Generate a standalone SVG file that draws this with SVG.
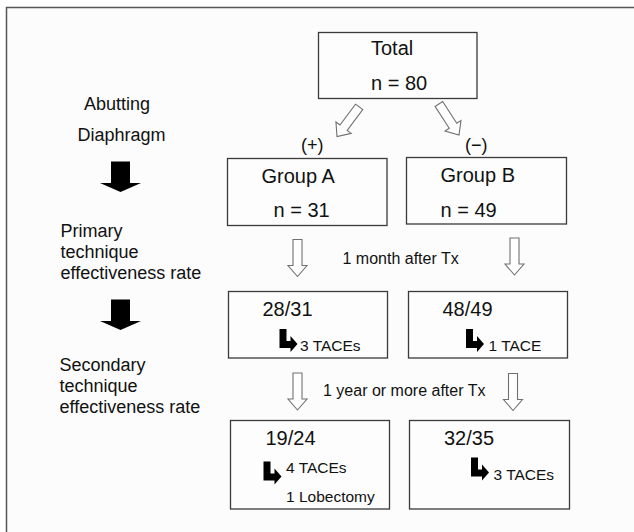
<svg xmlns="http://www.w3.org/2000/svg" xmlns:xlink="http://www.w3.org/1999/xlink" width="634" height="532" viewBox="0 0 634 532">
<style>
  text { font-family: "Liberation Sans", Arial, sans-serif; fill: #111; }
  .lbl { font-size: 18px; }
  .big { font-size: 20px; }
  .mid { font-size: 16px; }
  .sm { font-size: 15.5px; }
  .box { fill: #fdfdfd; stroke: #3a3a3a; stroke-width: 1.3; }
  .ha { fill: #fff; stroke: #707070; stroke-width: 1.1; }
  .ba { fill: #000; }
</style>
<defs>
  <path id="hollow" d="M-4.5,-37 H4.5 V-11 H9.5 L0,0 L-9.5,-11 H-4.5 Z"/>
  <path id="bent" d="M0,0 H7 V12 H11 V7 L18,15 L11,23 V19 H0 Z"/>
  <path id="black" d="M-9.5,-30.5 H9.5 V-9 H20.5 L0,0 L-20.5,-9 H-9.5 Z"/>
</defs>
<rect x="6.5" y="7.5" width="700" height="600" fill="#fcfcfc" stroke="#555" stroke-width="1.5"/>

<g id="side-labels">
  <text class="lbl" x="84" y="110">Abutting</text>
  <text class="lbl" x="77.5" y="141">Diaphragm</text>
  <text class="lbl" x="60.5" y="237">Primary</text>
  <text class="lbl" x="60.5" y="258">technique</text>
  <text class="lbl" x="60.5" y="279">effectiveness rate</text>
  <text class="lbl" x="59.5" y="371">Secondary</text>
  <text class="lbl" x="59.5" y="392">technique</text>
  <text class="lbl" x="59.5" y="413">effectiveness rate</text>
</g>

<g id="connectors">
  <use href="#black" class="ba" transform="translate(120.5,192)"/>
  <use href="#black" class="ba" transform="translate(120.5,330)"/>
  <use href="#hollow" class="ha" transform="translate(337,136.5) rotate(36.7)"/>
  <use href="#hollow" class="ha" transform="translate(459,135) rotate(-33)"/>
  <use href="#hollow" class="ha" transform="translate(297.5,276.5)"/>
  <use href="#hollow" class="ha" transform="translate(514.5,275)"/>
  <use href="#hollow" class="ha" transform="translate(297.5,410)"/>
  <use href="#hollow" class="ha" transform="translate(513,410.5)"/>
  <text class="lbl" x="301" y="151">(+)</text>
  <text class="lbl" x="465" y="151">(−)</text>
  <text class="mid" x="342.5" y="264">1 month after Tx</text>
  <text class="mid" x="323" y="396">1 year or more after Tx</text>
</g>

<g id="total">
  <rect class="box" x="318.5" y="32.5" width="158.5" height="66"/>
  <text class="big" x="371" y="55">Total</text>
  <text class="big" x="371" y="90">n = 80</text>
</g>

<g id="group-a">
  <rect class="box" x="227.5" y="158.5" width="159.5" height="67"/>
  <text class="big" x="261.5" y="183">Group A</text>
  <text class="big" x="273.5" y="217">n = 31</text>
</g>

<g id="group-b">
  <rect class="box" x="406.5" y="157.5" width="160" height="66.5"/>
  <text class="big" x="440.5" y="182">Group B</text>
  <text class="big" x="440.5" y="217">n = 49</text>
</g>

<g id="a-primary">
  <rect class="box" x="228.5" y="291.5" width="159" height="66.5"/>
  <text class="big" x="262.5" y="315.5">28/31</text>
  <use href="#bent" class="ba" transform="translate(279.5,329)"/>
  <text class="sm" x="300" y="351">3 TACEs</text>
</g>

<g id="b-primary">
  <rect class="box" x="408.5" y="291.5" width="159" height="66.5"/>
  <text class="big" x="442.5" y="315.5">48/49</text>
  <use href="#bent" class="ba" transform="translate(466,329)"/>
  <text class="sm" x="488.5" y="351">1 TACE</text>
</g>

<g id="a-secondary">
  <rect class="box" x="230.5" y="420.5" width="159" height="88.5"/>
  <text class="big" x="265.5" y="444.5">19/24</text>
  <use href="#bent" class="ba" transform="translate(263.5,461.5)"/>
  <text class="sm" x="286" y="472.5">4 TACEs</text>
  <text class="sm" x="286" y="501.5">1 Lobectomy</text>
</g>

<g id="b-secondary">
  <rect class="box" x="409.5" y="420.5" width="160" height="88.5"/>
  <text class="big" x="444" y="444.5">32/35</text>
  <use href="#bent" class="ba" transform="translate(471,457.5)"/>
  <text class="sm" x="493.5" y="479.5">3 TACEs</text>
</g>
</svg>
